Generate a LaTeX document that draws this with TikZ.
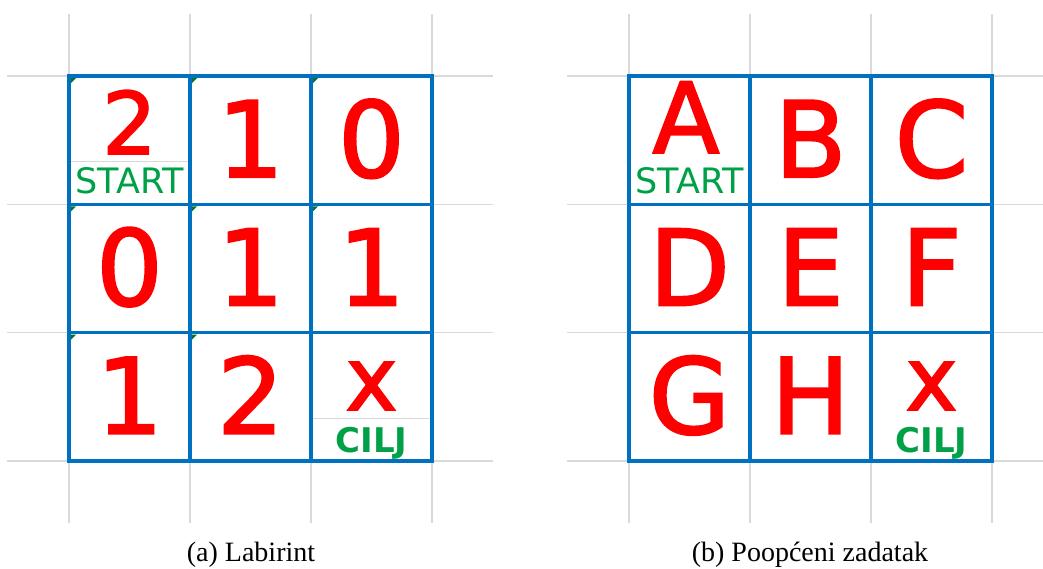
\documentclass[tikz,border=0pt]{standalone}
\usepackage{fontspec}
\setmainfont{Liberation Serif}
\newfontfamily\cellfont{DejaVu Sans}[FakeBold=2]
\newfontfamily\labelfont{DejaVu Sans}
\usepackage{xcolor}
\usepackage{tikz}
\usetikzlibrary{positioning}
\definecolor{gridgray}{RGB}{217,217,217}
\definecolor{boxblue}{RGB}{0,112,192}
\definecolor{labelgreen}{RGB}{0,160,70}
\definecolor{markgreen}{RGB}{0,120,40}
\tikzset{
  cellsymbol/.style={text=red, font=\cellfont\fontsize{105}{105}\selectfont, anchor=base, inner sep=0pt},
  startsymbol/.style={cellsymbol, font=\cellfont\fontsize{86}{86}\selectfont},
  crosssymbol/.style={cellsymbol, font=\cellfont\fontsize{88}{88}\selectfont},
  startlabel/.style={text=labelgreen, font=\labelfont\fontsize{35}{35}\selectfont, anchor=base, inner sep=0pt},
  goallabel/.style={startlabel, font=\labelfont\bfseries\fontsize{34}{34}\selectfont},
  caption/.style={font=\fontsize{28}{28}\selectfont, anchor=base, inner sep=0pt},
  sheetline/.style={gridgray, line width=1.5pt},
  boxline/.style={boxblue, line width=3.5pt}
}

\begin{document}
\begin{tikzpicture}[x=1pt,y=-1pt]
\useasboundingbox (0,0) rectangle (1043,568);
% spreadsheet grid behind both tables
\foreach \ox in {0,560} {
  \foreach \i in {0,...,3} {
    \draw[sheetline] (\ox+69+121*\i,14) -- (\ox+69+121*\i,523);
    \draw[sheetline] (\ox+7,76+128.33*\i) -- ({min(\ox+493,1043)},76+128.33*\i);
  }
}
\draw[gridgray, line width=1pt] (71,161) -- (189,161);
\draw[gridgray, line width=1pt] (313,418) -- (429,418);
% blue tables
\foreach \ox in {0,560} {
  \draw[boxline] (\ox+69,76) rectangle (\ox+432,461);
  \foreach \i in {1,2} {
    \draw[boxline] (\ox+69+121*\i,76) -- (\ox+69+121*\i,461);
    \draw[boxline] (\ox+69,76+128.33*\i) -- (\ox+432,76+128.33*\i);
  }
}
% green corner marks
\foreach \c/\r in {0/0,1/0,2/0,0/1,1/1,2/1,0/2,1/2} {
  \fill[markgreen] (71+121*\c,78+128.33*\r) -- ++(5,0) -- ++(-5,5) -- cycle;
}
% (a) labirint
\node[startsymbol] (lab-0-0) at (129.5,154) {2};
\node[startlabel] (start-a) at (129.5,193) {START};
\foreach \sym/\c/\r in {1/1/0, 0/2/0, 0/0/1, 1/1/1, 1/2/1, 1/0/2, 2/1/2} {
  \node[cellsymbol] (lab-\c-\r) at (129.5+121*\c,177+128.33*\r) {\sym};
}
\node[crosssymbol] (lab-2-2) at (371.5,410) {x};
\node[goallabel] (goal-a) at (371.5,452) {CILJ};
% (b) poopceni zadatak
\node[cellsymbol, font=\cellfont\fontsize{98}{98}\selectfont] (gen-0-0) at (686,153) {A};
\node[startlabel] (start-b) at (689.5,193) {START};
\foreach \sym/\c/\r in {B/1/0, C/2/0, D/0/1, E/1/1, F/2/1, G/0/2, H/1/2} {
  \node[cellsymbol] (gen-\c-\r) at (689.5+121*\c,177+128.33*\r) {\sym};
}
\node[crosssymbol] (gen-2-2) at (931.5,410) {x};
\node[goallabel] (goal-b) at (931.5,452) {CILJ};
% captions
\node[caption] (cap-a) at (251,561) {(a) Labirint};
\node[caption] (cap-b) at (810,561) {(b) Poopćeni zadatak};
\end{tikzpicture}
\end{document}
